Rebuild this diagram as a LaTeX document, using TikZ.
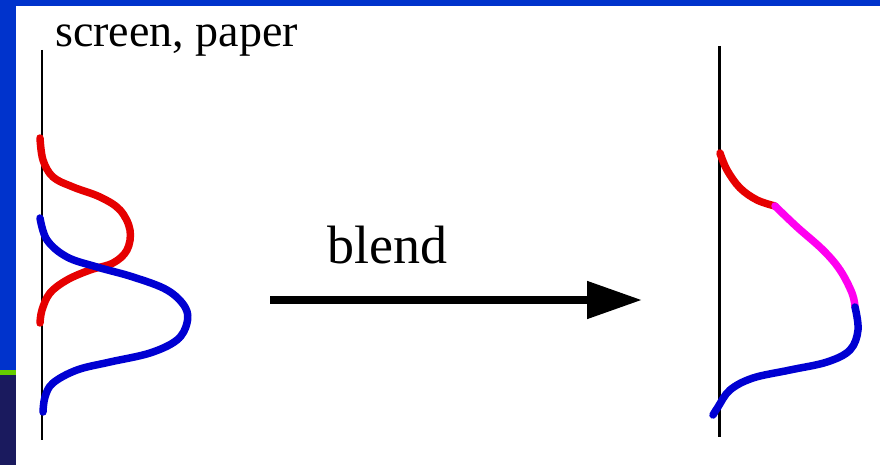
\documentclass[tikz,border=0pt]{standalone}
\usepackage{fontspec}
\setmainfont{Liberation Serif}
\usetikzlibrary{arrows.meta}

\definecolor{bandblue}{RGB}{0,51,204}
\definecolor{bandnavy}{RGB}{26,26,94}
\definecolor{bandgreen}{RGB}{102,204,0}
\definecolor{curvered}{RGB}{230,0,0}
\definecolor{curveblue}{RGB}{0,0,210}
\definecolor{curvemagenta}{RGB}{255,0,240}

\begin{document}
\begin{tikzpicture}[
  x=1pt, y=-1pt,
  axis/.style={draw=black, line width=2.2pt},
  curve/.style={line width=7.5pt, line cap=round, line join=round},
  label/.style={inner sep=0pt, anchor=base west},
  arrow/.style={line width=8pt, -{Triangle[length=55pt, width=36pt]}}
]
% frame
\fill[white] (0,0) rectangle (880,465);
\useasboundingbox (0,0) rectangle (880,465);
\fill[bandblue] (0,0) rectangle (880,6);
\fill[bandblue] (0,0) rectangle (16,370);
\fill[bandgreen] (0,370) rectangle (16,375);
\fill[bandnavy] (0,375) rectangle (16,465);

% texts
\node[label, font=\fontsize{46}{50}\selectfont] (screen) at (55,47) {screen, paper};
\node[label, font=\fontsize{54}{58}\selectfont] (blend) at (327,263) {blend};

% left: two separate curves
\coordinate (leftaxistop) at (42,50);
\coordinate (leftaxismid) at (42,103);
\coordinate (leftaxisbot) at (42,440);
\draw[axis, line width=1.2pt] (leftaxistop) -- (leftaxismid);
\draw[axis] (leftaxismid) -- (leftaxisbot);
\draw[curve, curvered] plot[smooth, tension=0.6] coordinates {(40,138) (43,160) (53,177) (73,187) (100,197) (120,210) (130,230) (127,250) (113,263) (90,270) (67,280) (50,293) (42,310) (40,323)};
\draw[curve, curveblue] plot[smooth, tension=0.6] coordinates {(40,218) (47,240) (67,257) (97,267) (133,277) (167,290) (185,307) (187,323) (177,340) (150,353) (110,362) (77,370) (53,383) (45,397) (43,412)};

% arrow
\coordinate (arrowstart) at (270,300);
\coordinate (arrowend) at (642,300);
\draw[arrow] (arrowstart) -- (arrowend);

% right: blended curve
\coordinate (rightaxistop) at (719,46);
\coordinate (rightaxisbot) at (719,437);
\draw[axis, line width=3pt] (rightaxistop) -- (rightaxisbot);
\draw[curve, curvered] plot[smooth, tension=0.6] coordinates {(720,153) (727,170) (740,188) (757,200) (775,206)};
\draw[curve, curvemagenta] plot[smooth, tension=0.6] coordinates {(775,206) (797,227) (823,250) (840,270) (852,293) (855,307)};
\draw[curve, curveblue] plot[smooth, tension=0.6] coordinates {(855,307) (858,330) (850,350) (827,362) (790,370) (753,378) (730,390) (718,407) (713,415)};
\end{tikzpicture}
\end{document}
